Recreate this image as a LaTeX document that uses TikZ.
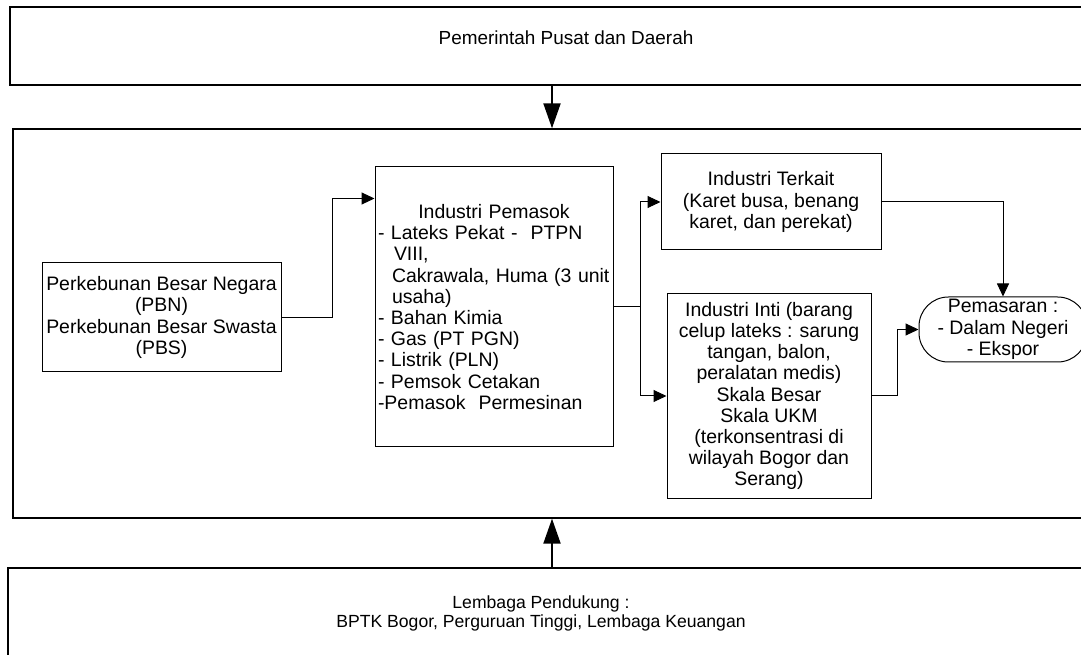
\documentclass[tikz,border=0pt]{standalone}
\usepackage{fontspec}
\setmainfont{Liberation Sans}
\usetikzlibrary{arrows.meta,calc}
\begin{document}
\begin{tikzpicture}[x=0.75pt,y=-0.75pt,
  inner/.style={draw, line width=0.75pt, inner sep=0pt, align=center,
    font=\fontsize{14.6}{15.9}\selectfont},
  frame/.style={draw, line width=1pt, inner sep=0pt},
  outertext/.style={inner sep=0pt, align=center, font=\fontsize{13.2}{14.3}\selectfont},
  conn/.style={draw, line width=0.75pt, -{Triangle[length=9.75pt,width=9pt]}},
  bigarrow/.style={draw, line width=1.5pt, -{Triangle[length=18.75pt,width=12.75pt]}}]
\useasboundingbox (0,0) rectangle (1081,655);
\clip (0,0) rectangle (1081,655);
\fill[white] (0,0) rectangle (1081,655);

% outer frames
\node[frame, minimum width=813.75pt, minimum height=58.5pt] (top) at (552.5,46) {};
\node[frame, minimum width=811.5pt, minimum height=291.75pt] (main) at (554,323.5) {};
\node[frame, minimum width=815.25pt, minimum height=78pt] (bottom) at (551.5,620) {};
\node[outertext, font=\fontsize{14.2}{15}\selectfont] (toptext) at (566,38) {Pemerintah Pusat dan Daerah};
\node[outertext] (bottext) at (541,613.5) {Lembaga Pendukung :\\BPTK Bogor, Perguruan Tinggi, Lembaga Keuangan};

\coordinate (ax) at (552,0);
\draw[bigarrow] (top.south -| ax) -- (main.north -| ax);
\draw[bigarrow] (bottom.north -| ax) -- (main.south -| ax);

% inner nodes
\node[inner, minimum width=179.25pt, minimum height=81.75pt] (pbn) at (161.5,317.5)
  {Perkebunan Besar Negara\\(PBN)\\Perkebunan Besar Swasta\\(PBS)};
\node[inner, align=left, text width=174pt, inner xsep=2.25pt, minimum height=210pt] (pem) at (494,307)
  {\makebox[\hsize][c]{Industri Pemasok}\\
   - Lateks Pekat -\ \ PTPN\\
   \hspace*{12pt}VIII,\\
   \hspace*{10.5pt}Cakrawala, Huma (3 unit\\
   \hspace*{10.5pt}usaha)\\
   - Bahan Kimia\\
   - Gas (PT PGN)\\
   - Listrik (PLN)\\
   - Pemsok Cetakan\\
   -Pemasok\ \ Permesinan};
\node[inner, minimum width=165pt, minimum height=72pt] (ter) at (771,202)
  {Industri Terkait\\(Karet busa, benang\\karet, dan perekat)};
\node[inner, minimum width=153pt, minimum height=153pt] (inti) at (769,396)
  {Industri Inti (barang\\celup lateks : sarung\\tangan, balon,\\peralatan medis)\\Skala Besar\\Skala UKM\\(terkonsentrasi di\\wilayah Bogor dan\\Serang)};
\node[inner, rounded corners=22pt, minimum width=126pt, minimum height=48.75pt] (pas) at (1003,329.5)
  {Pemasaran :\\- Dalam Negeri\\- Ekspor};

% connectors
\draw[conn] (pbn.east) -- ++(51,0) |- ($(pem.north west)+(0,32)$);
\draw[conn] (pem.east) -- ++(27,0) |- (ter.west);
\draw[conn] (pem.east) -- ++(27,0) |- (inti.west);
\draw[conn] (ter.east) -| (pas.north);
\draw[conn] (inti.east) -- ++(26,0) |- (pas.west);
\end{tikzpicture}
\end{document}
